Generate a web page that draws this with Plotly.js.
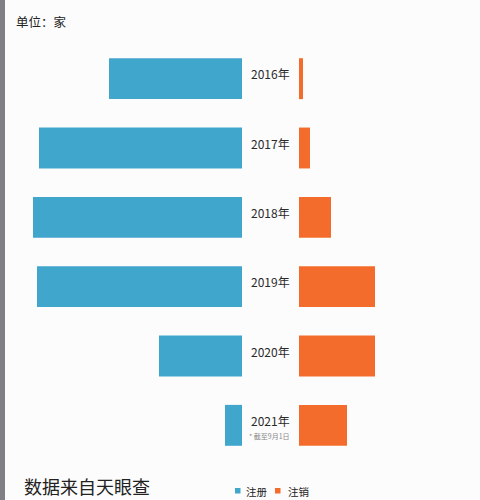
<!DOCTYPE html>
<html><head><meta charset="utf-8">
<script src="https://cdn.plot.ly/plotly-3.0.1.min.js"></script>
<style>html,body{margin:0;padding:0;background:#fcfcfc;}#c{width:480px;height:500px;}</style>
</head><body><div id="c"></div>
<script>
var years = ['2016', '2017', '2018', '2019', '2020', '2021'];
var yearLabels = ['2016年', '2017年', '2018年', '2019年', '2020年', '2021年'];
var registered = [6650, 10150, 10450, 10250, 4150, 850];
var cancelled = [200, 550, 1600, 3800, 3800, 2400];
var seriesNames = ['注册', '注销'];
var note2021 = '* 截至9月1日';

var blue = '#41a6cc', orange = '#f36c2c';
var W = 480, H = 500, T = 44, B = 40;
var ph = H - T - B;
var font = '"Noto Sans CJK SC", "Noto Sans", sans-serif';
function py(pix){ return (H - B - pix) / ph; }

var traces = [
  {type:'bar', orientation:'h', name:seriesNames[0], y:years, x:registered, xaxis:'x', yaxis:'y',
   marker:{color:blue}, width:0.59, hoverinfo:'none'},
  {type:'bar', orientation:'h', name:seriesNames[1], y:years, x:cancelled, xaxis:'x2', yaxis:'y',
   marker:{color:orange}, width:0.59, hoverinfo:'none'}
];

var ann = [];
years.forEach(function(y, i){
  if (y === '2021') {
    ann.push({xref:'paper', yref:'y', x:270.5/W, y:i, text:yearLabels[i], showarrow:false,
      yshift:5, font:{family:font, size:12, color:'#2a2a2a'}});
    ann.push({xref:'paper', yref:'y', x:269/W, y:i, text:note2021, showarrow:false,
      yshift:-10.5, font:{family:font, size:7, color:'#888'}});
  } else {
    ann.push({xref:'paper', yref:'y', x:270.5/W, y:i, text:yearLabels[i], showarrow:false,
      yshift:5, font:{family:font, size:12, color:'#2a2a2a'}});
  }
});
ann.push({xref:'paper', yref:'paper', x:14/W, y:py(21), xanchor:'left', yanchor:'middle',
  text:'单位：家', showarrow:false, font:{family:font, size:12.5, color:'#222'}});
ann.push({xref:'paper', yref:'paper', x:22/W, y:py(486), xanchor:'left', yanchor:'middle',
  text:'数据来自天眼查', showarrow:false, font:{family:font, size:18, color:'#222'}});
ann.push({xref:'paper', yref:'paper', x:244/W, y:py(491), xanchor:'left', yanchor:'middle',
  text:seriesNames[0], showarrow:false, font:{family:font, size:10.5, color:'#222'}});
ann.push({xref:'paper', yref:'paper', x:286/W, y:py(491), xanchor:'left', yanchor:'middle',
  text:seriesNames[1], showarrow:false, font:{family:font, size:10.5, color:'#222'}});

var layout = {
  width:W, height:H, margin:{l:0, r:0, t:T, b:B},
  paper_bgcolor:'#fcfcfc', plot_bgcolor:'#fcfcfc',
  showlegend:false,
  xaxis:{domain:[0, 242/W], range:[242*50, 0], visible:false, fixedrange:true},
  xaxis2:{domain:[299/W, 1], range:[0, 181*50], visible:false, fixedrange:true},
  yaxis:{type:'category', autorange:false, range:[5.5, -0.5], visible:false, fixedrange:true},
  annotations:ann,
  shapes:[
    {type:'rect', xref:'paper', yref:'paper', x0:0, x1:5/W, y0:py(500), y1:py(0),
      fillcolor:'#7f7f84', line:{width:0}, layer:'above'},
    {type:'rect', xref:'paper', yref:'paper', x0:235/W, x1:240.5/W, y0:py(493.5), y1:py(488),
      fillcolor:blue, line:{width:0}, layer:'above'},
    {type:'rect', xref:'paper', yref:'paper', x0:275/W, x1:280.5/W, y0:py(493.5), y1:py(488),
      fillcolor:orange, line:{width:0}, layer:'above'}
  ]
};

Plotly.newPlot('c', traces, layout, {displayModeBar:false, staticPlot:true});
</script></body></html>
